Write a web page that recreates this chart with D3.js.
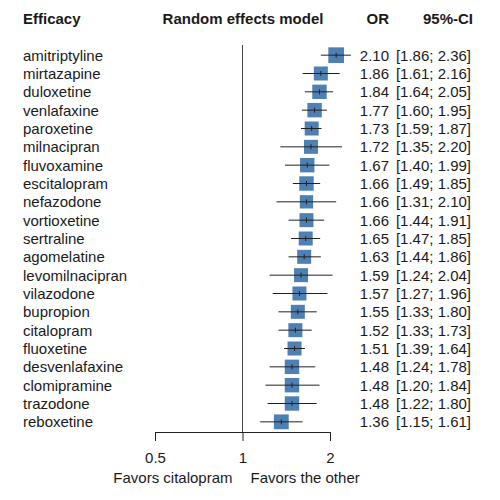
<!DOCTYPE html>
<html>
<head>
<meta charset="utf-8">
<script src="https://cdn.jsdelivr.net/npm/d3@7"></script>
<style>
  body { margin: 0; background: #fff; }
  text { font-family: "Liberation Sans", Arial, sans-serif; fill: #1a1a1a; }
</style>
</head>
<body>
<svg id="chart" width="500" height="500"></svg>
<script>
// drug names, top to bottom
const drugs = ["amitriptyline", "mirtazapine", "duloxetine", "venlafaxine", "paroxetine",
    "milnacipran", "fluvoxamine", "escitalopram", "nefazodone", "vortioxetine", "sertraline",
    "agomelatine", "levomilnacipran", "vilazodone", "bupropion", "citalopram", "fluoxetine",
    "desvenlafaxine", "clomipramine", "trazodone", "reboxetine"];
const oddsRatio = [2.10, 1.86, 1.84, 1.77, 1.73, 1.72, 1.67, 1.66, 1.66, 1.66, 1.65,
    1.63, 1.59, 1.57, 1.55, 1.52, 1.51, 1.48, 1.48, 1.48, 1.36];
const ciLow = [1.86, 1.61, 1.64, 1.60, 1.59, 1.35, 1.40, 1.49, 1.31, 1.44, 1.47,
    1.44, 1.24, 1.27, 1.33, 1.33, 1.39, 1.24, 1.20, 1.22, 1.15];
const ciHigh = [2.36, 2.16, 2.05, 1.95, 1.87, 2.20, 1.99, 1.85, 2.10, 1.91, 1.85,
    1.86, 2.04, 1.96, 1.80, 1.73, 1.64, 1.78, 1.84, 1.80, 1.61];
// relative study weight
const weights = [1.12, 1.0, 1.03, 1.03, 1.0, 1.0, 1.03, 1.03, 0.95, 1.0, 1.0,
    1.0, 1.0, 1.0, 1.0, 1.0, 1.0, 1.03, 1.03, 1.03, 1.06];
const axisTicks = [0.5, 1, 2];

const svg = d3.select("#chart");
const fmt = d3.format(".2f");

const x = d3.scaleLog().domain([0.5, 2]).range([155, 330]);
const y = d3.scaleBand().domain(drugs).range([46, 431]);
const rowY = d => y(d) + y.bandwidth() / 2;
const boxSize = d3.scaleLinear().domain([0, 1]).range([0, 14]);

// column headers
const header = svg.append("g").attr("class", "header")
    .style("font-weight", "bold").style("font-size", "15px");
header.append("text").attr("x", 23).attr("y", 24).text("Efficacy");
header.append("text").attr("x", 243).attr("y", 24).attr("text-anchor", "middle").text("Random effects model");
header.append("text").attr("x", 389).attr("y", 24).attr("text-anchor", "end").text("OR");
header.append("text").attr("x", 473).attr("y", 24).attr("text-anchor", "end").text("95%-CI");

// line of no effect
svg.append("line")
    .attr("x1", x(1)).attr("x2", x(1))
    .attr("y1", 45).attr("y2", 432)
    .attr("stroke", "#444").attr("stroke-width", 1);

const rows = svg.append("g").selectAll("g")
    .data(drugs)
    .join("g")
    .attr("transform", d => `translate(0,${rowY(d)})`);

rows.append("text")
    .attr("x", 23).attr("dy", "0.36em")
    .style("font-size", "15px")
    .text(d => d);

rows.append("rect")
    .attr("x", (d, i) => x(oddsRatio[i]) - boxSize(weights[i]) / 2)
    .attr("y", (d, i) => -boxSize(weights[i]) / 2)
    .attr("width", (d, i) => boxSize(weights[i]))
    .attr("height", (d, i) => boxSize(weights[i]))
    .attr("fill", "#4f80b3");

rows.append("line")
    .attr("x1", (d, i) => x(ciLow[i]))
    .attr("x2", (d, i) => x(ciHigh[i]))
    .attr("stroke", "#222").attr("stroke-width", 1);

rows.append("line")
    .attr("x1", (d, i) => x(oddsRatio[i]))
    .attr("x2", (d, i) => x(oddsRatio[i]))
    .attr("y1", -2.5).attr("y2", 2.5)
    .attr("stroke", "#222").attr("stroke-width", 1);

rows.append("text")
    .attr("x", 389).attr("dy", "0.36em")
    .attr("text-anchor", "end")
    .style("font-size", "15px")
    .text((d, i) => fmt(oddsRatio[i]));

rows.append("text")
    .attr("x", 471).attr("dy", "0.36em")
    .attr("text-anchor", "end")
    .style("font-size", "15px")
    .text((d, i) => `[${fmt(ciLow[i])}; ${fmt(ciHigh[i])}]`);

// bottom axis
const axis = svg.append("g")
    .attr("transform", "translate(0,432)")
    .call(d3.axisBottom(x).tickValues(axisTicks).tickFormat(d3.format("")).tickSize(9).tickPadding(11).tickSizeOuter(0));
axis.select(".domain").attr("stroke", "#222");
axis.selectAll(".tick line").attr("stroke", "#222");
axis.selectAll(".tick text")
    .style("font-size", "15px")
    .style("font-family", "'Liberation Sans', Arial, sans-serif")
    .attr("fill", "#1a1a1a");

svg.append("text")
    .attr("x", x(1) - 10).attr("y", 483)
    .attr("text-anchor", "end")
    .style("font-size", "15px")
    .text("Favors citalopram");
svg.append("text")
    .attr("x", x(1) + 8).attr("y", 483)
    .style("font-size", "15px")
    .text("Favors the other");
</script>
</body>
</html>
